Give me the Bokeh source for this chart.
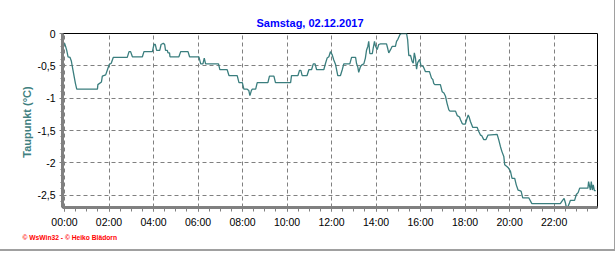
from bokeh.plotting import figure
from bokeh.models import FixedTicker, CustomJSTickFormatter, Title, Range1d
from bokeh.embed import file_html
from bokeh.resources import INLINE

title_text = "Samstag, 02.12.2017"
y_label = "Taupunkt  (°C)"
credit = "© WsWin32 - © Heiko Blädorn"

# time of day in hours, dew point in °C
hours = [0.00, 0.05, 0.10, 0.16, 0.25, 0.31, 0.35, 0.43, 0.49, 0.55, 1.48, 1.50, 1.66, 1.70,
         1.85, 1.93, 2.01, 2.10, 2.19, 2.82, 2.90, 2.97, 3.05, 3.50, 3.57, 3.95, 4.02, 4.08,
         4.14, 4.28, 4.34, 4.44, 4.50, 4.54, 4.62, 4.65, 4.72, 4.74, 5.14, 5.22, 5.55, 5.62,
         6.04, 6.12, 6.22, 6.28, 6.34, 6.92, 6.98, 7.31, 7.39, 7.76, 7.84, 7.99, 8.06, 8.21,
         8.28, 8.33, 8.40, 8.44, 8.59, 8.66, 9.14, 9.21, 9.41, 9.48, 10.16, 10.20, 10.49, 10.56,
         10.62, 10.68, 10.90, 10.98, 11.10, 11.18, 11.26, 11.33, 11.65, 11.73, 11.80, 11.88,
         11.95, 12.03, 12.10, 12.18, 12.28, 12.40, 12.48, 12.55, 12.82, 12.90, 13.08, 13.12,
         13.18, 13.22, 13.30, 13.38, 13.45, 13.52, 13.57, 13.63, 13.67, 13.72, 13.83, 13.87,
         13.93, 13.97, 14.05, 14.12, 14.20, 14.47, 14.53, 14.57, 14.65, 14.72, 14.87, 14.92,
         14.98, 15.07, 15.13, 15.37, 15.42, 15.47, 15.55, 15.62, 15.67, 15.72, 15.77, 15.82,
         15.87, 15.96, 16.02, 16.12, 16.22, 16.40, 16.49, 16.55, 16.59, 16.64, 16.89, 16.97,
         17.05, 17.12, 17.19, 17.27, 17.32, 17.57, 17.65, 17.75, 17.79, 17.87, 17.90, 18.01,
         18.09, 18.14, 18.19, 18.24, 18.32, 18.34, 18.54, 18.61, 18.69, 18.75, 18.84, 18.94,
         19.03, 19.44, 19.51, 19.59, 19.66, 19.74, 19.78, 19.89, 19.95, 20.04, 20.11, 20.23,
         20.30, 20.38, 20.46, 20.52, 20.59, 20.86, 21.00, 22.28, 22.38, 22.45, 22.51, 22.55,
         22.62, 22.69, 22.73, 22.92, 23.00, 23.08, 23.15, 23.52, 23.55, 23.63, 23.67, 23.72,
         23.76, 23.81, 23.87]
dewpoint = [-0.15, -0.20, -0.26, -0.36, -0.37, -0.43, -0.51, -0.66, -0.77, -0.86, -0.86, -0.79, -0.75, -0.66,
            -0.64, -0.56, -0.48, -0.46, -0.37, -0.37, -0.28, -0.28, -0.36, -0.36, -0.28, -0.28, -0.17, -0.17,
            -0.26, -0.26, -0.17, -0.15, -0.17, -0.26, -0.26, -0.30, -0.30, -0.36, -0.36, -0.28, -0.28, -0.36,
            -0.36, -0.47, -0.47, -0.38, -0.47, -0.47, -0.56, -0.56, -0.65, -0.65, -0.76, -0.76, -0.86, -0.86,
            -0.88, -0.96, -0.88, -0.86, -0.86, -0.76, -0.76, -0.66, -0.66, -0.76, -0.76, -0.65, -0.65, -0.57,
            -0.57, -0.65, -0.65, -0.56, -0.56, -0.47, -0.47, -0.56, -0.56, -0.46, -0.38, -0.36,
            -0.28, -0.33, -0.41, -0.48, -0.65, -0.65, -0.56, -0.47, -0.47, -0.37, -0.37, -0.46,
            -0.52, -0.60, -0.51, -0.48, -0.47, -0.38, -0.26, -0.20, -0.12, -0.31, -0.31, -0.23,
            -0.12, -0.19, -0.25, -0.17, -0.16, -0.16, -0.24, -0.30, -0.25, -0.20, -0.20, -0.12,
            -0.09, -0.02, 0.00, 0.00, -0.10, -0.34, -0.34, -0.43, -0.46, -0.30, -0.38, -0.55,
            -0.45, -0.40, -0.50, -0.51, -0.59, -0.59, -0.69, -0.71, -0.77, -0.79, -0.79, -0.90,
            -0.92, -0.97, -1.08, -1.18, -1.20, -1.20, -1.27, -1.29, -1.33, -1.39, -1.40, -1.40,
            -1.31, -1.26, -1.30, -1.36, -1.43, -1.45, -1.45, -1.51, -1.57, -1.58, -1.64, -1.64,
            -1.57, -1.56, -1.64, -1.75, -1.83, -1.90, -2.03, -2.06, -2.08, -2.13, -2.24, -2.24,
            -2.34, -2.42, -2.43, -2.44, -2.54, -2.54, -2.63, -2.63, -2.58, -2.55, -2.62, -2.69,
            -2.68, -2.62, -2.58, -2.58, -2.49, -2.46, -2.39, -2.39, -2.29, -2.42, -2.29, -2.42,
            -2.34, -2.43, -2.43]

x_ticks = [0, 2, 4, 6, 8, 10, 12, 14, 16, 18, 20, 22]
y_ticks = [0, -0.5, -1, -1.5, -2, -2.5]

p = figure(width=615, height=251, output_backend="svg", toolbar_location=None,
           x_range=Range1d(-0.09, 23.95), y_range=Range1d(-2.69, 0.0),
           min_border_left=62, min_border_right=18, min_border_top=33, min_border_bottom=44,
           background_fill_color="white", border_fill_color="white",
           styles={"border-right": "1px solid #a0a0a0", "border-bottom": "2px solid #a0a0a0"})

p.line(hours, dewpoint, line_color="#3A7E7E", line_width=1.3)

p.outline_line_color = "black"
p.outline_line_width = 1

for g in (p.xgrid, p.ygrid):
    g.grid_line_color = "#808080"
    g.grid_line_dash = "4 3"
    g.grid_line_width = 1

p.xaxis.ticker = FixedTicker(ticks=x_ticks, minor_ticks=[i * 0.5 for i in range(48)])
p.yaxis.ticker = FixedTicker(ticks=y_ticks, minor_ticks=[-i * 0.1 for i in range(27)])
p.xaxis.formatter = CustomJSTickFormatter(code="""
    var h = Math.round(tick); return (h < 10 ? '0' : '') + h + ':00';""")
p.yaxis.formatter = CustomJSTickFormatter(code="""
    var s = (Math.round(tick * 10) / 10).toString(); return s.replace('.', ',');""")

for ax in (p.xaxis, p.yaxis):
    ax.axis_line_color = "#808080"
    ax.axis_line_width = 3
    ax.major_tick_line_color = "#808080"
    ax.minor_tick_line_color = "#808080"
    ax.major_tick_in = 0
    ax.minor_tick_in = 0
    ax.major_label_text_font = "Liberation Sans"
    ax.major_label_text_font_size = "10.5px"
    ax.major_label_text_color = "black"

p.xaxis.major_tick_out = 4
p.xaxis.minor_tick_out = 4
p.xaxis.major_label_standoff = 4
p.yaxis.major_tick_out = 3
p.yaxis.minor_tick_out = 2
p.yaxis.major_label_standoff = 4

p.yaxis.axis_label = y_label
p.yaxis.axis_label_text_font = "Liberation Sans"
p.yaxis.axis_label_text_font_size = "11px"
p.yaxis.axis_label_text_font_style = "bold"
p.yaxis.axis_label_text_color = "#408080"
p.yaxis.axis_label_standoff = 1

p.add_layout(Title(text=title_text, align="left", offset=194, standoff=9,
                   text_font="Liberation Sans", text_font_size="11px",
                   text_font_style="bold", text_color="#0000FF"), "above")
p.add_layout(Title(text=credit, align="left", offset=-40, standoff=2,
                   text_font="Liberation Sans", text_font_size="6.7px",
                   text_font_style="bold", text_color="#FF0000"), "below")

open("out.html", "w").write(file_html(p, INLINE))
